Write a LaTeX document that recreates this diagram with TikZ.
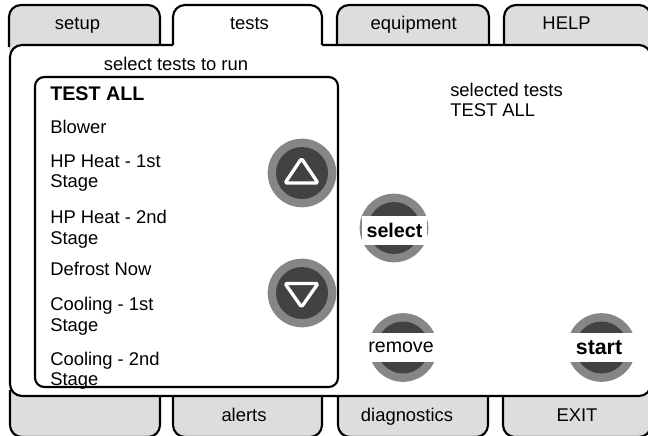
\documentclass[tikz,border=0pt]{standalone}
\usepackage{fontspec}
\setmainfont{Liberation Sans}
\definecolor{tabgray}{HTML}{DDDDDD}
\definecolor{ringgray}{HTML}{868686}
\definecolor{btndark}{HTML}{424242}
\begin{document}
\begin{tikzpicture}[x=0.75pt,y=-0.75pt,line join=round,
  edge/.style={line width=1.6pt},
  lbl/.style={inner sep=0pt,font=\fontsize{13.8}{16}\selectfont},
  bld/.style={inner sep=0pt,font=\fontsize{14.8}{16}\selectfont\bfseries},
  item/.style={lbl,anchor=base west},
  tablbl/.style={lbl,anchor=base},
  ring/.style={circle,fill=ringgray,minimum size=51.5pt,inner sep=0pt},
  core/.style={circle,fill=btndark,minimum size=39pt,inner sep=0pt},
  band/.style={fill=white,minimum height=21.5pt,inner xsep=3.5pt,inner ysep=0pt},
  arrowmark/.style={draw=white,line width=2.5pt,rounded corners=1.5pt}]
\useasboundingbox (0,0) rectangle (648,435);
\clip (0,0) rectangle (648,435);
% top grey tabs
\foreach \a/\b in {9/160,337/489,504/651}{
  \fill[tabgray,rounded corners=9pt] (\a,5) rectangle (\b,60);
  \draw[edge,rounded corners=9pt] (\a,47) -- (\a,5) -- (\b,5) -- (\b,47);
}
% bottom grey tabs
\foreach \a/\b in {10/160,173/322,338/488,503/651}{
  \fill[tabgray,rounded corners=9pt] (\a,380) rectangle (\b,437);
  \draw[edge,rounded corners=9pt] (\a,390) -- (\a,437) -- (\b,437) -- (\b,390);
}
% main panel
\filldraw[fill=white,edge,rounded corners=9pt] (10,45) rectangle (651,396);
% active tab
\fill[white,rounded corners=9pt] (173,5) rectangle (322,60);
\draw[edge,rounded corners=9pt] (173,45) -- (173,5) -- (322,5) -- (322,45);
% tab labels
\node[tablbl] (tsetup) at (77.5,29.5) {setup};
\node[tablbl] (ttests) at (249.5,29.5) {tests};
\node[tablbl] (tequip) at (413.7,29.5) {equipment};
\node[tablbl] (thelp) at (566.5,29.5) {HELP};
\node[tablbl] (talerts) at (244,421) {alerts};
\node[tablbl] (tdiag) at (407,421) {diagnostics};
\node[tablbl] (texit) at (577,421) {EXIT};
% headings
\node[tablbl] (head) at (176,70) {select tests to run};
\node[item] (sel1) at (450,96) {selected tests};
\node[item] (sel2) at (450,116.5) {TEST ALL};
% list
\node[bld,anchor=base west] (i0) at (50,100.7) {TEST ALL};
\node[item] (i1) at (50,133) {Blower};
\node[item] (i2a) at (50,167) {HP Heat - 1st};
\node[item] (i2b) at (50,187.6) {Stage};
\node[item] (i3a) at (50,223.5) {HP Heat - 2nd};
\node[item] (i3b) at (50,244) {Stage};
\node[item] (i4) at (50,275) {Defrost Now};
\node[item] (i5a) at (50,310) {Cooling - 1st};
\node[item] (i5b) at (50,331) {Stage};
\node[item] (i6a) at (50,365) {Cooling - 2nd};
\node[item] (i6b) at (50,385.6) {Stage};
\draw[edge,rounded corners=7pt] (35,77) rectangle (338,387);
% scroll buttons
\node[ring] (upr) at (302,173) {};
\node[core] (upc) at (302,173) {};
\draw[arrowmark] (301.5,158.5) -- (318,183) -- (285,183) -- cycle;
\node[ring] (dnr) at (302,293) {};
\node[core] (dnc) at (302,293) {};
\draw[arrowmark] (285,283.5) -- (318,283.5) -- (301.5,307) -- cycle;
% action buttons
\node[ring] (selr) at (394,228) {};
\node[core] (selc) at (394,228) {};
\node[bld,band] (sell) at (394.5,230.5) {select};
\node[ring] (remr) at (403,347.5) {};
\node[core] (remc) at (403,347.5) {};
\node[band,inner sep=0pt,font=\fontsize{14.7}{16}\selectfont,minimum width=57pt] (reml) at (401,347.5) {remove};
\node[ring] (star) at (601.5,347.5) {};
\node[core] (stac) at (601.5,347.5) {};
\node[band,inner sep=0pt,font=\fontsize{16}{16}\selectfont\bfseries,minimum width=57pt] (stal) at (599,347.5) {start};
\end{tikzpicture}
\end{document}
